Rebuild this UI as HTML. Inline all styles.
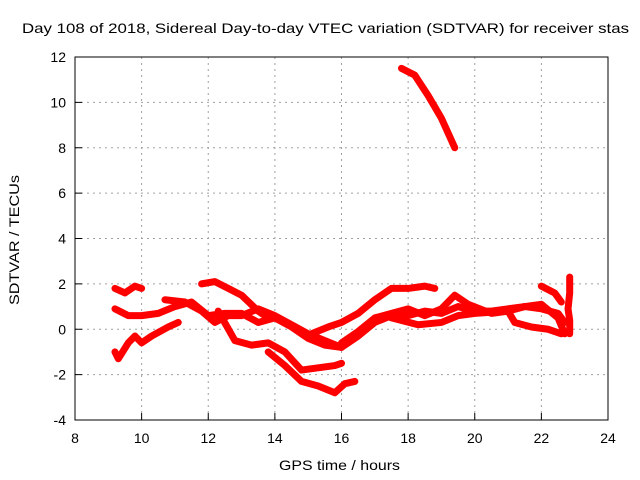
<!DOCTYPE html>
<html><head><meta charset="utf-8"><style>
body{margin:0;background:#fff}
svg{display:block;font-family:"Liberation Sans",sans-serif;font-size:14px}
</style></head><body>
<svg id="chart" width="640" height="480">
<text x="22" y="33" textLength="607" lengthAdjust="spacingAndGlyphs" style="font-size:14px">Day 108 of 2018, Sidereal Day-to-day VTEC variation (SDTVAR) for receiver stas</text>
<text x="279" y="470" textLength="121" lengthAdjust="spacingAndGlyphs">GPS time / hours</text>
<text transform="translate(19,305) rotate(-90)" textLength="130" lengthAdjust="spacingAndGlyphs">SDTVAR / TECUs</text>
<g id="grid"></g><g id="marks"></g>
<rect x="75" y="57" width="533" height="363" fill="none" stroke="#000"/>
</svg>
<script>
const xTicks=[8,10,12,14,16,18,20,22,24];
const yTicks=[-4,-2,0,2,4,6,8,10,12];
const traceA=[[9.2,1.8],[9.5,1.6],[9.8,1.9],[10,1.8]];
const traceB=[[9.2,0.9],[9.6,0.6],[10,0.6],[10.5,0.7],[11,1.0],[11.5,1.2],[12,0.6],[12.5,0.7],[13,0.7],[13.5,0.3],[14,0.5],[14.5,0.1],[15,-0.4],[15.5,-0.7],[16,-0.8],[16.5,-0.3],[17,0.3],[17.5,0.6],[18,0.6],[18.5,0.8],[19,0.7],[19.5,1.0],[20,0.8],[20.5,0.8],[21,0.9],[21.5,1.0],[22,0.9],[22.5,0.7],[22.7,0.3]];
const traceC=[[10.7,1.3],[11.3,1.2],[11.8,0.8],[12.2,0.3],[12.6,0.6],[13,0.6],[13.5,0.9],[14,0.6],[14.5,0.2],[15,-0.2],[15.5,-0.5],[16,-0.8]];
const traceD=[[9.2,-1.0],[9.3,-1.3],[9.6,-0.6],[9.8,-0.3],[10,-0.6],[10.3,-0.3],[10.8,0.1],[11.1,0.3]];
const traceE=[[11.8,2.0],[12.2,2.1],[12.6,1.8],[13,1.5],[13.5,0.8],[13.8,0.5]];
const traceF=[[12.3,0.8],[12.8,-0.5],[13.3,-0.7],[13.8,-0.6],[14.3,-1.0],[14.8,-1.8],[15.3,-1.7],[15.8,-1.6],[16,-1.5]];
const traceG=[[13.8,-1.0],[14.3,-1.6],[14.8,-2.3],[15.3,-2.5],[15.8,-2.8],[16.1,-2.4],[16.4,-2.3]];
const traceH=[[15.1,-0.2],[15.6,0.1],[16,0.3],[16.5,0.7],[17,1.3],[17.5,1.8],[18,1.8],[18.5,1.9],[18.8,1.8]];
const traceI=[[16,-0.6],[16.5,-0.1],[17,0.5],[17.5,0.7],[18,0.9],[18.5,0.6],[19,0.9],[19.4,1.5],[19.8,1.1],[20.5,0.7],[21,0.8],[21.5,1.0],[22,1.1],[22.5,0.5],[22.7,-0.2]];
const traceJ=[[17.5,0.5],[18.3,0.2],[19,0.3],[19.5,0.6],[20,0.7],[21,0.8],[21.2,0.3],[21.7,0.1],[22.2,0],[22.6,-0.2]];
const traceK=[[22,1.9],[22.4,1.6],[22.6,1.2]];
const traceL=[[17.8,11.5],[18.2,11.2],[18.6,10.3],[19,9.3],[19.4,8.0]];
const traceM=[[22.85,2.3],[22.85,1.6],[22.8,0.9],[22.85,0.4],[22.85,-0.2]];
const traces=[traceA,traceB,traceC,traceD,traceE,traceF,traceG,traceH,traceI,traceJ,traceK,traceL,traceM];
const X=h=>75+(h-8)*533/16, Y=v=>57+(12-v)*363/16;
const NS='http://www.w3.org/2000/svg';
const grid=document.getElementById('grid'), marks=document.getElementById('marks');
function mk(tag,attrs,parent){const e=document.createElementNS(NS,tag);for(const k in attrs)e.setAttribute(k,attrs[k]);parent.appendChild(e);return e;}
xTicks.forEach(t=>{const x=X(t);
 if(t>8&&t<24){const g=mk('line',{x1:x,x2:x,y1:57,y2:420,stroke:'#a0a0a0','stroke-dasharray':'2,4'},grid);
 
 }
 const tk=mk('line',{x1:x,x2:x,y1:420,y2:413,stroke:'#000'},grid);
 
 
 const l=mk('text',{x:x,y:443,'text-anchor':'middle'},grid);l.textContent=t;
 
 });
yTicks.forEach(t=>{const y=Y(t);
 if(t>-4&&t<12){const g=mk('line',{x1:75,x2:608,y1:y,y2:y,stroke:'#a0a0a0','stroke-dasharray':'2,4'},grid);
 
 }
 const tk=mk('line',{x1:75,x2:82,y1:y,y2:y,stroke:'#000'},grid);
 
 
 const l=mk('text',{x:66,y:y+5,'text-anchor':'end'},grid);l.textContent=t;
 
 });
traces.forEach(tr=>{
 const p=mk('polyline',{points:tr.map(d=>X(d[0])+','+Y(d[1])).join(' '),fill:'none',stroke:'#ff0000','stroke-width':7,'stroke-linejoin':'round','stroke-linecap':'round'},marks);
 
 
});
</script>
</body></html>
